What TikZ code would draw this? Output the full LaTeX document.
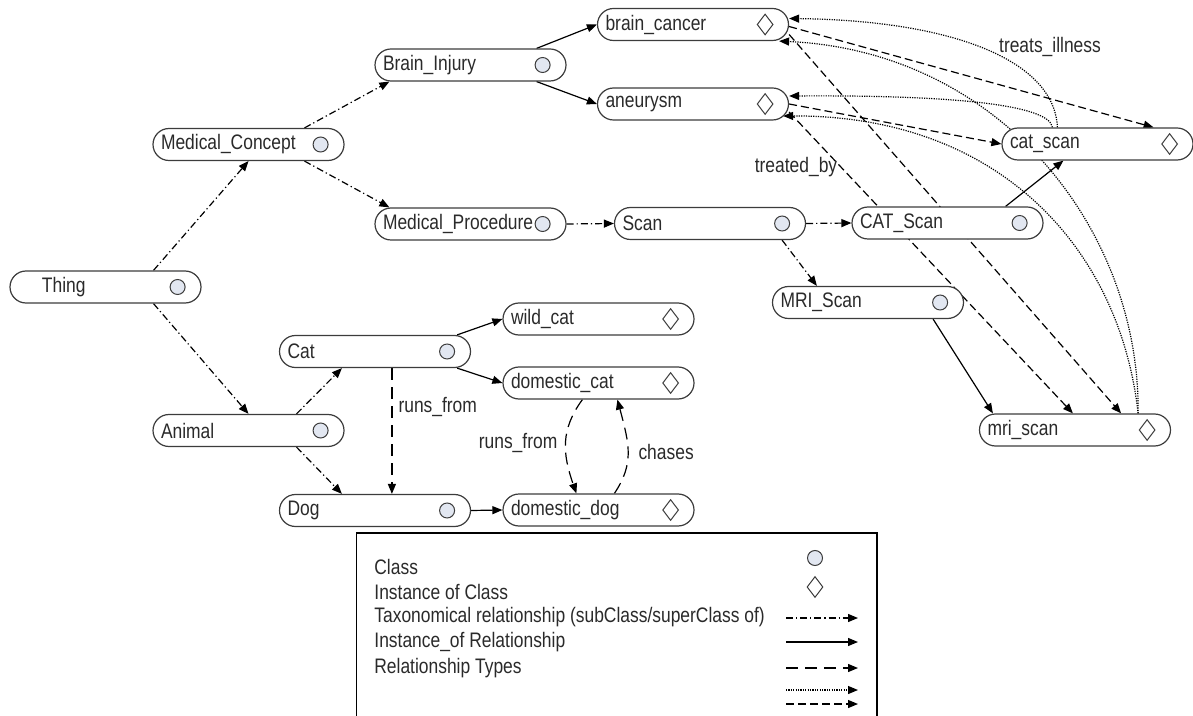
\documentclass[tikz,border=0pt]{standalone}
\usepackage{fontspec}
\setmainfont{Liberation Sans}[FakeStretch=0.83]
\usepackage{tikz}
\usetikzlibrary{arrows.meta,shapes.geometric,backgrounds}

\definecolor{boxgray}{HTML}{3C3C3C}
\definecolor{txtgray}{HTML}{2A2A2A}
\definecolor{clsfill}{HTML}{E2E7F1}

\begin{document}
\begin{tikzpicture}[x=0.5pt,y=-0.5pt,font=\fontsize{10.5pt}{12pt}\selectfont]
    \tikzstyle{pill} = [draw=boxgray,line width=0.6pt,fill=white,rounded corners=8pt,minimum height=16pt,text width=87.5pt,inner xsep=4pt,inner ysep=0pt,align=left,text=txtgray]
    \tikzstyle{clsmark} = [circle,draw=boxgray,fill=clsfill,line width=0.5pt,minimum size=7.5pt,inner sep=0pt]
    \tikzstyle{instmark} = [diamond,draw=boxgray,line width=0.5pt,minimum width=8pt,minimum height=10.5pt,inner sep=0pt]
    \tikzstyle{lbl} = [text=txtgray,inner sep=1pt]
    \tikzstyle{taxo} = [line width=0.6pt,dash pattern=on 3.5pt off 1.5pt on 0.6pt off 1.5pt,-{Triangle[length=5pt,width=4pt]}]
    \tikzstyle{inst} = [line width=0.6pt,-{Triangle[length=5pt,width=4pt]}]
    \tikzstyle{rel} = [line width=0.6pt,dash pattern=on 6pt off 3.5pt,-{Triangle[length=5pt,width=4pt]}]
    \tikzstyle{treats} = [line width=0.6pt,dash pattern=on 0.6pt off 0.6pt,-{Triangle[length=5pt,width=4pt]}]
    \tikzstyle{treated} = [line width=0.6pt,dash pattern=on 4pt off 2pt,-{Triangle[length=5pt,width=4pt]}]

    \useasboundingbox (0,0) rectangle (1193,716);

    % classes
    \node[pill] at (105.5,287) (thing) {\hspace*{12pt}Thing};
    \node[pill] at (248.5,144.5) (medc) {Medical\_Concept};
    \node[pill] at (248.5,430.5) (animal) {Animal};
    \node[pill] at (470.5,65) (brinj) {Brain\_Injury};
    \node[pill] at (470.5,224) (medproc) {Medical\_Procedure};
    \node[pill] at (375,351.5) (cat) {Cat};
    \node[pill] at (375,510.5) (dog) {Dog};
    \node[pill] at (710,223.5) (scan) {Scan};
    \node[pill] at (947.5,223) (ctscan) {CAT\_Scan};
    \node[pill] at (868,302.5) (mrscan) {MRI\_Scan};

    % instances
    \node[pill] at (693,24.5) (brcancer) {brain\_cancer};
    \node[pill] at (693,104) (aneurysm) {aneurysm};
    \node[pill] at (598.5,319) (wildcat) {wild\_cat};
    \node[pill] at (598.5,383) (domcat) {domestic\_cat};
    \node[pill] at (598.5,510) (domdog) {domestic\_dog};
    \node[pill] at (1097.5,144) (catscan) {cat\_scan};
    \node[pill] at (1075,430) (mriscan) {mri\_scan};

    \foreach \n in {thing,medc,animal,brinj,medproc,cat,dog,scan,ctscan,mrscan}
        \node[clsmark] (\n-mark) at ([xshift=-12pt]\n.east) {};
    \foreach \n in {brcancer,aneurysm,wildcat,domcat,domdog,catscan,mriscan}
        \node[instmark] (\n-mark) at ([xshift=-12pt]\n.east) {};

    \begin{scope}[on background layer]
    % subclass links
    \draw[taxo] ([xshift=24pt]thing.north) -- (medc.south);
    \draw[taxo] ([xshift=24pt]thing.south) -- (animal.north);
    \draw[taxo] ([xshift=28pt]medc.north) -- ([xshift=7.5pt]brinj.south west);
    \draw[taxo] ([xshift=28pt]medc.south) -- ([xshift=7.5pt]medproc.north west);
    \draw[taxo] (medproc.east) -- (scan.west);
    \draw[taxo] (scan.east) -- (ctscan.west);
    \draw[taxo] ([xshift=-12pt]scan.south east) -- ([xshift=22.5pt]mrscan.north west);
    \draw[taxo] ([xshift=24pt]animal.north) -- ([xshift=31.5pt]cat.south west);
    \draw[taxo] ([xshift=24pt]animal.south) -- ([xshift=31.5pt]dog.north west);

    % instance_of links
    \draw[inst] ([xshift=-15pt]brinj.north east) -- (brcancer.west);
    \draw[inst] ([xshift=-15pt]brinj.south east) -- (aneurysm.west);
    \draw[inst] ([xshift=-7pt]cat.north east) -- (wildcat.west);
    \draw[inst] ([xshift=-7pt]cat.south east) -- (domcat.west);
    \draw[inst] (dog.east) -- (domdog.west);
    \draw[inst] ([xshift=-19pt]ctscan.north east) -- ([xshift=31pt]catscan.south west);
    \draw[inst] ([xshift=-15.5pt]mrscan.south east) -- ([xshift=7pt]mriscan.north west);

    % runs_from / chases
    \draw[rel] ([xshift=56.5pt]cat.south west) -- ([xshift=56.5pt]dog.north west)
        node[lbl,pos=0.31,right,xshift=2pt] (lbl-runs1) {runs\_from};
    \draw[rel] ([xshift=40pt]domcat.south west) .. controls +(-22,30) and +(-14,-40) .. ([xshift=37pt]domdog.north west)
        node[lbl,pos=0.5,left,xshift=-3pt] (lbl-runs2) {runs\_from};
    \draw[rel] ([xshift=56pt]domdog.north west) .. controls +(20,-30) and +(12,45) .. ([xshift=57.5pt]domcat.south west)
        node[lbl,pos=0.5,right,xshift=4pt] (lbl-chases) {chases};

    % treats_illness
    \draw[treats] ([xshift=28pt]catscan.north west) .. controls +(-3,-68) and +(161,2) .. ([yshift=3pt]brcancer.east);
    \draw[treats] ([xshift=25.5pt]catscan.north west) .. controls +(-3,-23) and +(161,-1) .. ([yshift=4pt]aneurysm.east);
    \draw[treats] ([xshift=-16.5pt]mriscan.north east) .. controls +(2,-184) and +(221,10) .. ([xshift=-5pt]brcancer.south east);
    \draw[treats] ([xshift=-16.5pt]mriscan.north east) .. controls +(-18,-164) and +(217,-1) .. ([xshift=-3pt,yshift=-6pt]aneurysm.east);

    % treated_by
    \draw[treated] ([yshift=-1pt]brcancer.east) -- ([xshift=-20pt]catscan.north east);
    \draw[treated] (aneurysm.east) -- (catscan.west);
    \draw[treated] ([yshift=-5pt]brcancer.east) -- ([xshift=-25pt]mriscan.north east);
    \draw[treated] ([yshift=-4pt]aneurysm.east) -- ([xshift=47pt]mriscan.north west);
    \end{scope}

    \node[lbl] at (1050,47) (lbl-treats) {treats\_illness};
    \node[lbl] at (796,167) (lbl-treated) {treated\_by};

    % legend
    \draw[line width=0.6pt] (356.5,716) -- (356.5,533) -- (877,533) -- (877,716);
    \node[lbl,anchor=west] at (372,567) (leg-cls) {Class};
    \node[lbl,anchor=west] at (372,592) (leg-inst) {Instance of Class};
    \node[lbl,anchor=west] at (372,617) (leg-taxo) {Taxonomical relationship (subClass/superClass of)};
    \node[lbl,anchor=west] at (372,642) (leg-instof) {Instance\_of Relationship};
    \node[lbl,anchor=west] at (372,668) (leg-rel) {Relationship Types};
    \node[clsmark] at (815,558) (leg-clsmark) {};
    \node[instmark] at (815,587) (leg-instmark) {};
    \foreach \st/\y [count=\i] in {taxo/618,inst/642,rel/668,treats/690,treated/704} {
        \coordinate (leg-a\i) at (786,\y);
        \coordinate (leg-b\i) at (858,\y);
        \draw[\st] (leg-a\i) -- (leg-b\i);
    }
\end{tikzpicture}
\end{document}
